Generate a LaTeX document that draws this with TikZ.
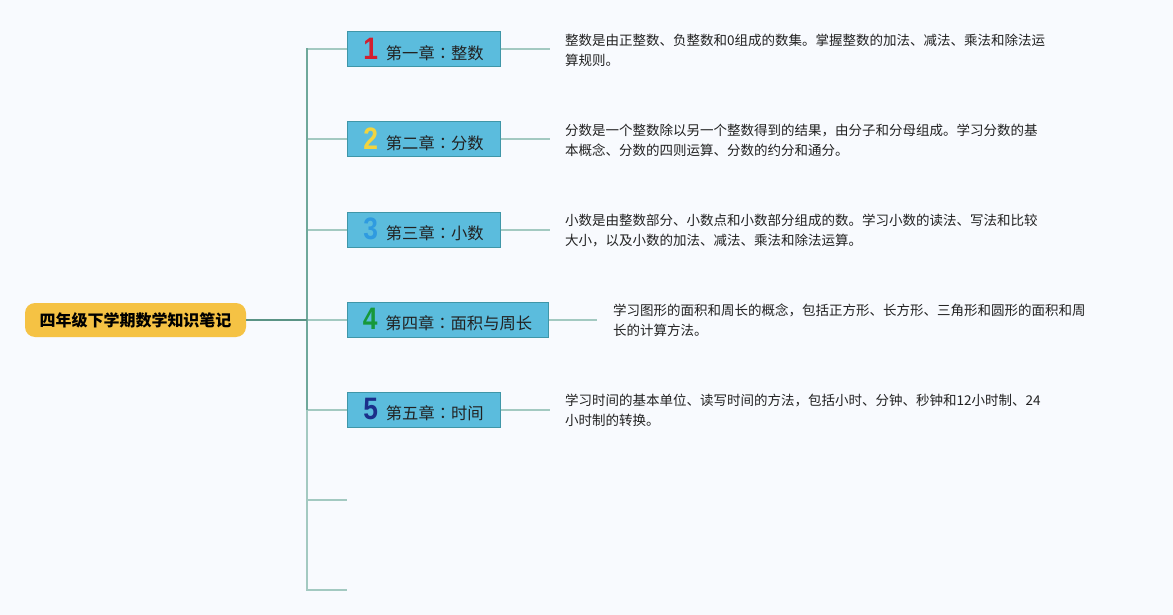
\documentclass[tikz,border=0pt]{standalone}
\usepackage{fontspec}
\setmainfont{Noto Sans CJK SC}
\newfontfamily\cjktc{Noto Sans CJK TC}
\newfontfamily\digitfont{Liberation Sans}
\usetikzlibrary{positioning}
\definecolor{bg}{HTML}{F8FAFE}
\definecolor{rootfill}{HTML}{F5C244}
\definecolor{boxfill}{HTML}{5BBCDD}
\definecolor{boxline}{HTML}{3F96A8}
\definecolor{rootline}{HTML}{5A9385}
\definecolor{trunkline}{HTML}{6FA89B}
\definecolor{lightline}{HTML}{A3C9C1}
\definecolor{txt}{HTML}{222222}
\definecolor{nA}{HTML}{D21F2F}
\definecolor{nB}{HTML}{F2D43E}
\definecolor{nC}{HTML}{2F9BE0}
\definecolor{nD}{HTML}{17983A}
\definecolor{nE}{HTML}{1B2F8A}
\tikzset{
  x=1pt,y=1pt,
  rootbox/.style={draw=none,fill=rootfill,rounded corners=10pt,minimum width=221pt,minimum height=34pt,inner sep=0pt,font=\fontsize{16}{16}\selectfont\bfseries,text=black},
  chapbox/.style={draw=boxline,line width=1pt,fill=boxfill,minimum height=35pt,inner sep=0pt,font=\fontsize{16.3}{16}\selectfont,text=txt},
  desc/.style={anchor=west,align=left,inner sep=0pt,font=\fontsize{13.5}{20}\selectfont,text=txt},
  rootconn/.style={draw=rootline,line width=2pt},
  trunkconn/.style={draw=trunkline,line width=2pt},
  lightconn/.style={draw=lightline,line width=2pt},
}
\newcommand{\chnum}[2]{\textcolor{#1}{\scalebox{0.85}[1]{\digitfont\fontsize{31}{31}\selectfont\bfseries #2}}\hspace{8pt}}
\newcommand{\chcolon}{{\cjktc ：}}
\begin{document}
\begin{tikzpicture}
\fill[bg] (0,0) rectangle (1173,-615);
\useasboundingbox (0,0) rectangle (1173,-615);

\node[rootbox] (root) at (135.5,-320) {四年级下学期数学知识笔记};

\node[chapbox,minimum width=153pt] (c1) at (423.5,-49.5) {\chnum{nA}{1}第一章\chcolon 整数};
\node[chapbox,minimum width=153pt] (c2) at (423.5,-139.5) {\chnum{nB}{2}第二章\chcolon 分数};
\node[chapbox,minimum width=153pt] (c3) at (423.5,-229.5) {\chnum{nC}{3}第三章\chcolon 小数};
\node[chapbox,minimum width=201pt] (c4) at (447.5,-319.5) {\chnum{nD}{4}第四章\chcolon 面积与周长};
\node[chapbox,minimum width=153pt] (c5) at (423.5,-409.5) {\chnum{nE}{5}第五章\chcolon 时间};

\coordinate (J) at (307,-320);
\coordinate (e6) at (347,-500);
\coordinate (e7) at (347,-590);

\node[desc] (d1) at (565,-50) {整数是由正整数、负整数和0组成的数集。掌握整数的加法、减法、乘法和除法运\\算规则。};
\node[desc] (d2) at (565,-140) {分数是一个整数除以另一个整数得到的结果，由分子和分母组成。学习分数的基\\本概念、分数的四则运算、分数的约分和通分。};
\node[desc] (d3) at (565,-230) {小数是由整数部分、小数点和小数部分组成的数。学习小数的读法、写法和比较\\大小，以及小数的加法、减法、乘法和除法运算。};
\node[desc] (d4) at (613,-320) {学习图形的面积和周长的概念，包括正方形、长方形、三角形和圆形的面积和周\\长的计算方法。};
\node[desc] (d5) at (565,-410) {学习时间的基本单位、读写时间的方法，包括小时、分钟、秒钟和12小时制、24\\小时制的转换。};

\coordinate (r1) at (550,-49.5);
\coordinate (r2) at (550,-139.5);
\coordinate (r3) at (550,-229.5);
\coordinate (r4) at (597,-319.5);
\coordinate (r5) at (550,-409.5);

% horizontal branches
\draw[lightconn] (c1.west -| J) -- (c1.west);
\draw[lightconn] (c2.west -| J) -- (c2.west);
\draw[lightconn] (c3.west -| J) -- (c3.west);
\draw[lightconn] (c4.west -| J) -- (c4.west);
\draw[lightconn] (c5.west -| J) -- (c5.west);
\draw[lightconn] (e6 -| J) -- (e6);
% trunk
\draw[lightconn] (c5.west -| J) |- (e7);
\draw[trunkconn,line cap=rect] (J) -- (c1.west -| J);
\draw[trunkconn] (J) -- (c5.west -| J);
\draw[rootconn] (root.east) -- (J);

% right connectors
\draw[lightconn] (c1.east) -- (r1);
\draw[lightconn] (c2.east) -- (r2);
\draw[lightconn] (c3.east) -- (r3);
\draw[lightconn] (c4.east) -- (r4);
\draw[lightconn] (c5.east) -- (r5);
\end{tikzpicture}
\end{document}
